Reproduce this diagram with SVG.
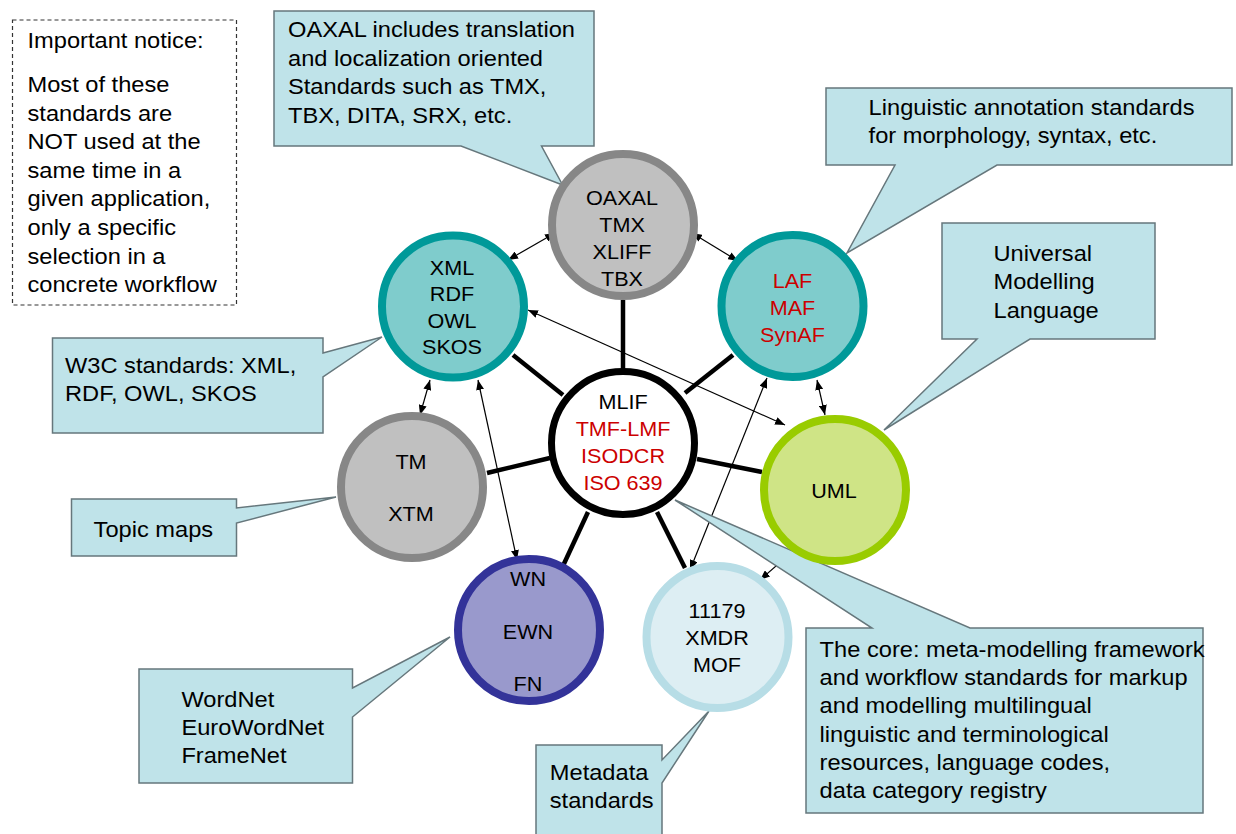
<svg xmlns="http://www.w3.org/2000/svg" width="1236" height="834" viewBox="0 0 1236 834">
<style>
text{font-family:"Liberation Sans",Arial,sans-serif;fill:#000}
.t{font-size:21.5px}
.n{font-size:20px;text-anchor:middle}
.red{fill:#cc0000}
.call{fill:#bfe3e9;stroke:#66777c;stroke-width:1.5;stroke-linejoin:miter}
.thick{stroke:#000;stroke-width:4.5;fill:none}
.thin{stroke:#000;stroke-width:1.2;fill:none;marker-end:url(#ah)}
.dbl{marker-start:url(#ah)}
.gray{fill:#c0c0c0;stroke:#878787;stroke-width:8}
.teal{fill:#7fcccc;stroke:#009999;stroke-width:8}
</style>
<defs>
<marker id="ah" viewBox="0 0 10 8" refX="10" refY="4" markerWidth="10" markerHeight="8" markerUnits="userSpaceOnUse" orient="auto-start-reverse">
<path d="M0,0 L10,4 L0,8 z" fill="#000"/>
</marker>
</defs>
<rect width="1236" height="834" fill="#fff"/>

<g id="notice">
<rect x="12.5" y="20" width="224" height="285" fill="#fff" stroke="#333" stroke-width="1.2" stroke-dasharray="4,3"/>
<text class="t" transform="translate(27.5,48) scale(1.1,1)"><tspan x="0">Important notice:</tspan><tspan x="0" dy="44">Most of these</tspan><tspan x="0" dy="28.6">standards are</tspan><tspan x="0" dy="28.6">NOT used at the</tspan><tspan x="0" dy="28.6">same time in a</tspan><tspan x="0" dy="28.6">given application,</tspan><tspan x="0" dy="28.6">only a specific</tspan><tspan x="0" dy="28.6">selection in a</tspan><tspan x="0" dy="28.6">concrete workflow</tspan></text>
</g>

<g id="connectors">
<line class="thick" x1="623" y1="300" x2="623" y2="369"/>
<line class="thick" x1="513" y1="355" x2="563" y2="395"/>
<line class="thick" x1="685" y1="393" x2="733" y2="355"/>
<line class="thick" x1="487" y1="473" x2="550" y2="458"/>
<line class="thick" x1="697" y1="459" x2="762" y2="472"/>
<line class="thick" x1="588" y1="512" x2="562" y2="568"/>
<line class="thick" x1="657" y1="512" x2="685" y2="568"/>
<line class="thin dbl" x1="508" y1="260" x2="555" y2="233"/>
<line class="thin dbl" x1="692" y1="233" x2="738" y2="261"/>
<line class="thin dbl" x1="528" y1="310" x2="785" y2="425"/>
<line class="thin dbl" x1="430" y1="380" x2="420" y2="415"/>
<line class="thin dbl" x1="478" y1="380" x2="517" y2="560"/>
<line class="thin dbl" x1="817" y1="380" x2="825" y2="415"/>
<line class="thin dbl" x1="767" y1="378" x2="690" y2="570"/>
<line class="thin" x1="800" y1="545" x2="760" y2="580"/>
</g>

<g id="callout-oaxal">
<path class="call" d="M274,11 H594 V146 H541.5 L562.6,185 L461,146 H274 Z"/>
<text class="t" transform="translate(288,37) scale(1.1,1)"><tspan x="0">OAXAL includes translation</tspan><tspan x="0" dy="28.7">and localization oriented</tspan><tspan x="0" dy="28.7">Standards such as TMX,</tspan><tspan x="0" dy="28.7">TBX, DITA, SRX, etc.</tspan></text>
</g>
<g id="callout-linguistic">
<path class="call" d="M826,88 H1232 V165 H997 L847,253 L895,165 H826 Z"/>
<text class="t" transform="translate(868.6,115) scale(1.1,1)"><tspan x="0">Linguistic annotation standards</tspan><tspan x="0" dy="28.3">for morphology, syntax, etc.</tspan></text>
</g>
<g id="callout-uml">
<path class="call" d="M942,223 H1155 V339 H1030 L884,430 L977,339 H942 Z"/>
<text class="t" transform="translate(993.5,261) scale(1.1,1)"><tspan x="0">Universal</tspan><tspan x="0" dy="28.5">Modelling</tspan><tspan x="0" dy="28.5">Language</tspan></text>
</g>
<g id="callout-w3c">
<path class="call" d="M52.5,338 H323 V353 L382,337 L323,377 V433 H52.5 Z"/>
<text class="t" transform="translate(65,372.7) scale(1.1,1)"><tspan x="0">W3C standards: XML,</tspan><tspan x="0" dy="28">RDF, OWL, SKOS</tspan></text>
</g>
<g id="callout-topic">
<path class="call" d="M71.5,499 H236.5 V508 L336,497 L236.5,523 V556 H71.5 Z"/>
<text class="t" transform="translate(93.6,536.7) scale(1.1,1)">Topic maps</text>
</g>
<g id="callout-wordnet">
<path class="call" d="M139,669 H352.5 V688 L450,637 L352.5,717 V783 H139 Z"/>
<text class="t" transform="translate(181.4,707) scale(1.1,1)"><tspan x="0">WordNet</tspan><tspan x="0" dy="28">EuroWordNet</tspan><tspan x="0" dy="28">FrameNet</tspan></text>
</g>
<g id="callout-metadata">
<path class="call" d="M536,745 H662 V760 L709,711 L662,783 V840 H536 Z"/>
<text class="t" transform="translate(549.8,780) scale(1.1,1)"><tspan x="0">Metadata</tspan><tspan x="0" dy="28">standards</tspan></text>
</g>
<g id="callout-core">
<path class="call" d="M806,628 H872 L675,500 L970,628 H1203 V813 H806 Z"/>
<text class="t" transform="translate(819.6,656.7) scale(1.1,1)"><tspan x="0">The core: meta-modelling framework</tspan><tspan x="0" dy="28.3">and workflow standards for markup</tspan><tspan x="0" dy="28.3">and modelling multilingual</tspan><tspan x="0" dy="28.3">linguistic and terminological</tspan><tspan x="0" dy="28.3">resources, language codes,</tspan><tspan x="0" dy="28.3">data category registry</tspan></text>
</g>

<g id="node-oaxal">
<circle class="gray" cx="623" cy="225" r="71"/>
<text class="n" transform="translate(622,205) scale(1.08,1)"><tspan x="0">OAXAL</tspan><tspan x="0" dy="27">TMX</tspan><tspan x="0" dy="27">XLIFF</tspan><tspan x="0" dy="27">TBX</tspan></text>
</g>
<g id="node-xml">
<circle class="teal" cx="453" cy="306.5" r="71"/>
<text class="n" transform="translate(452,275) scale(1.08,1)"><tspan x="0">XML</tspan><tspan x="0" dy="26.5">RDF</tspan><tspan x="0" dy="26.5">OWL</tspan><tspan x="0" dy="26.5">SKOS</tspan></text>
</g>
<g id="node-laf">
<circle class="teal" cx="792.5" cy="306" r="71"/>
<text class="n red" transform="translate(792.5,288) scale(1.08,1)"><tspan x="0">LAF</tspan><tspan x="0" dy="26.8">MAF</tspan><tspan x="0" dy="26.8">SynAF</tspan></text>
</g>
<g id="node-mlif">
<circle cx="623" cy="443" r="71.5" fill="#fff" stroke="#000" stroke-width="7"/>
<text class="n" transform="translate(623,409) scale(1.08,1)"><tspan x="0">MLIF</tspan><tspan x="0" dy="27" class="red">TMF-LMF</tspan><tspan x="0" dy="27" class="red">ISODCR</tspan><tspan x="0" dy="27" class="red">ISO 639</tspan></text>
</g>
<g id="node-tm">
<circle class="gray" cx="412" cy="487" r="71"/>
<text class="n" transform="translate(411,469) scale(1.08,1)"><tspan x="0">TM</tspan><tspan x="0" dy="51.7">XTM</tspan></text>
</g>
<g id="node-uml">
<circle cx="835" cy="490" r="71" fill="#cfe486" stroke="#99cc00" stroke-width="8"/>
<text class="n" transform="translate(834,498) scale(1.08,1)">UML</text>
</g>
<g id="node-wn">
<circle cx="529" cy="630" r="71" fill="#9999cc" stroke="#333399" stroke-width="8"/>
<text class="n" transform="translate(528,586) scale(1.08,1)"><tspan x="0">WN</tspan><tspan x="0" dy="53">EWN</tspan><tspan x="0" dy="52">FN</tspan></text>
</g>
<g id="node-11179">
<circle cx="717.5" cy="637" r="71" fill="#ddeef3" stroke="#b7dde6" stroke-width="8"/>
<text class="n" transform="translate(717,618.3) scale(1.08,1)"><tspan x="0">11179</tspan><tspan x="0" dy="27">XMDR</tspan><tspan x="0" dy="27">MOF</tspan></text>
</g>
</svg>
